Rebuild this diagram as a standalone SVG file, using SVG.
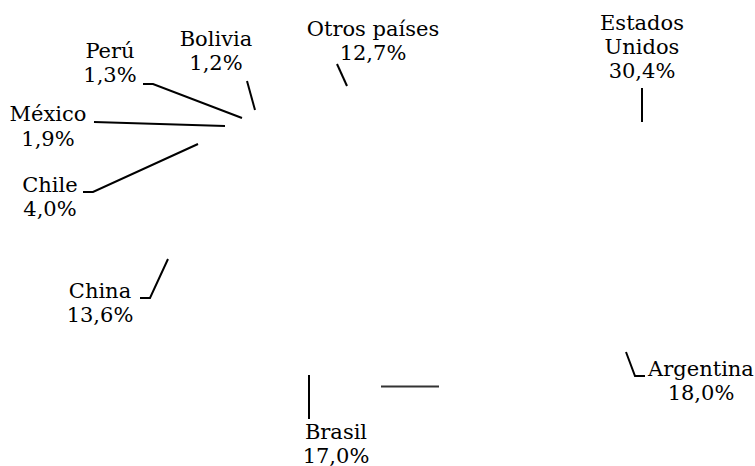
<svg xmlns="http://www.w3.org/2000/svg" width="755" height="466" viewBox="0 0 755 466">
<style>
text{font-family:"DejaVu Serif",serif;font-size:21px;fill:#000;text-anchor:middle}
.c{fill:none;stroke:#000;stroke-width:2}
</style>
<rect width="755" height="466" fill="#fff"/>
<g id="connectors">
<polyline class="c" points="143,84 153,84 242,118"/>
<line class="c" x1="247" y1="81" x2="255" y2="110"/>
<line class="c" x1="337" y1="64" x2="347" y2="86"/>
<line class="c" x1="94" y1="122" x2="225" y2="126"/>
<polyline class="c" points="83,192 93,192 198,144"/>
<line class="c" x1="642" y1="88" x2="642" y2="122"/>
<polyline class="c" points="140,298 150,298 168,259"/>
<polyline class="c" points="626,352 635,376 645,376"/>
<line class="c" x1="309" y1="375" x2="309" y2="419"/>
<line x1="381" y1="386.5" x2="439" y2="386.5" stroke="#333" stroke-width="2"/>
</g>
<g id="bolivia"><text x="216" y="46">Bolivia</text><text x="216" y="70">1,2%</text></g>
<g id="peru"><text x="110" y="58">Perú</text><text x="110" y="82">1,3%</text></g>
<g id="otros"><text x="373" y="36">Otros países</text><text x="373" y="60">12,7%</text></g>
<g id="eeuu"><text x="642" y="30">Estados</text><text x="642" y="54">Unidos</text><text x="642" y="78">30,4%</text></g>
<g id="mexico"><text x="48" y="121">México</text><text x="48" y="146">1,9%</text></g>
<g id="chile"><text x="50" y="192">Chile</text><text x="50" y="216">4,0%</text></g>
<g id="china"><text x="100" y="298">China</text><text x="100" y="322">13,6%</text></g>
<g id="argentina"><text x="701" y="376">Argentina</text><text x="701" y="400">18,0%</text></g>
<g id="brasil"><text x="336" y="439">Brasil</text><text x="336" y="463">17,0%</text></g>
</svg>
